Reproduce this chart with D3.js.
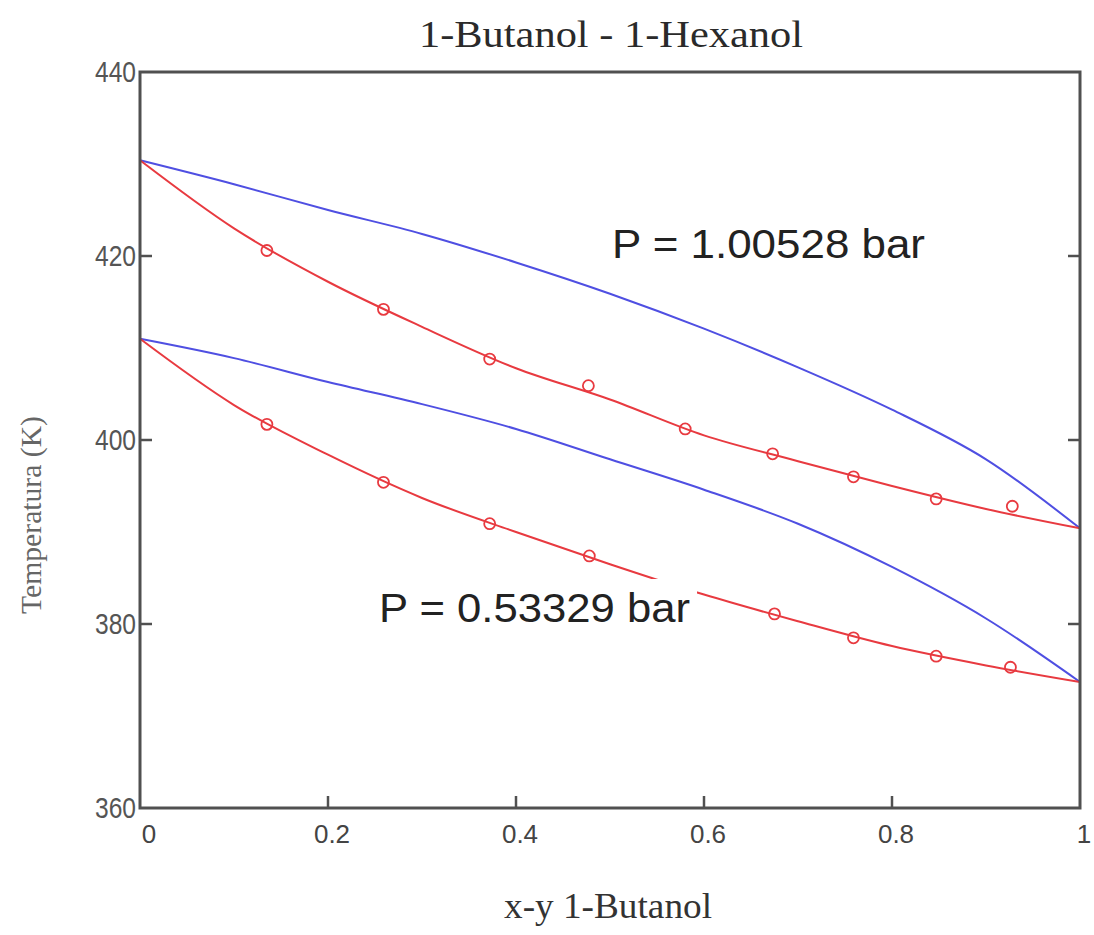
<!DOCTYPE html>
<html>
<head>
<meta charset="utf-8">
<script src="https://cdn.jsdelivr.net/npm/d3@7"></script>
<style>
  html, body { margin: 0; padding: 0; background: #fff; }
  svg { display: block; }
</style>
</head>
<body>
<svg id="chart" width="1094" height="935"></svg>
<script>
// T-x-y diagram for 1-Butanol / 1-Hexanol at two pressures

// Mole-fraction grid on which the model curves are tabulated
const gridX = [0, 0.1, 0.2, 0.3, 0.4, 0.5, 0.6, 0.7, 0.8, 0.9, 1];

// Model temperatures (K) on gridX
const bubbleHighT = [430.4, 423.0, 417.2, 412.3, 407.8, 404.4, 400.5, 397.7, 395.0, 392.5, 390.4]; // liquid, P = 1.00528 bar
const dewHighT    = [430.4, 427.8, 425.0, 422.4, 419.3, 415.9, 412.1, 407.9, 403.3, 397.9, 390.4]; // vapour, P = 1.00528 bar
const bubbleLowT  = [411.0, 403.8, 398.4, 393.7, 390.0, 386.5, 383.2, 380.3, 377.6, 375.5, 373.7]; // liquid, P = 0.53329 bar
const dewLowT     = [411.0, 408.9, 406.3, 403.9, 401.2, 397.9, 394.6, 390.9, 386.2, 380.6, 373.7]; // vapour, P = 0.53329 bar

// Experimental points
const expHighX = [0.135, 0.259, 0.372, 0.477, 0.58, 0.673, 0.759, 0.847, 0.928];
const expHighT = [420.6, 414.2, 408.8, 405.9, 401.2, 398.5, 396.0, 393.6, 392.8];
const expLowX  = [0.135, 0.259, 0.372, 0.478, 0.675, 0.759, 0.847, 0.926];
const expLowT  = [401.7, 395.4, 390.9, 387.4, 381.1, 378.5, 376.5, 375.3];

// Axis ticks and texts
const xTicks = [0, 0.2, 0.4, 0.6, 0.8, 1];
const xTickLabels = ["0", "0.2", "0.4", "0.6", "0.8", "1"];
const yTicks = [360, 380, 400, 420, 440];
const yTickLabels = ["360", "380", "400", "420", "440"];
const titleText = "1-Butanol - 1-Hexanol";
const xLabelText = "x-y 1-Butanol";
const yLabelText = "Temperatura (K)";
const pressureLabels = ["P = 1.00528 bar", "P = 0.53329 bar"];

const svg = d3.select("#chart");
const plotLeft = 140, plotRight = 1080, plotTop = 72, plotBottom = 808;

const x = d3.scaleLinear().domain([0, 1]).range([plotLeft, plotRight]);
const y = d3.scaleLinear().domain([360, 440]).range([plotBottom, plotTop]);

const blue = "#4f4fe2";
const red = "#e83a40";
const axisColor = "#505050";

const zip = (xs, ts) => xs.map((v, i) => [v, ts[i]]);
const line = d3.line().x(d => x(d[0])).y(d => y(d[1])).curve(d3.curveMonotoneX);

const plot = svg.append("g");

// curves
[[dewHighT, blue], [bubbleHighT, red], [dewLowT, blue], [bubbleLowT, red]].forEach(([ts, c]) => {
  plot.append("path")
    .attr("d", line(zip(gridX, ts)))
    .attr("fill", "none")
    .attr("stroke", c)
    .attr("stroke-width", 2)
    .attr("stroke-linejoin", "round");
});

// experimental circles
[[expHighX, expHighT], [expLowX, expLowT]].forEach(([xs, ts]) => {
  plot.selectAll(null)
    .data(zip(xs, ts))
    .enter().append("circle")
    .attr("cx", d => x(d[0]))
    .attr("cy", d => y(d[1]))
    .attr("r", 5.5)
    .attr("fill", "none")
    .attr("stroke", red)
    .attr("stroke-width", 1.8);
});

// pressure annotations (the lower one sits on an opaque box)
svg.append("rect")
  .attr("x", 372).attr("y", 579).attr("width", 325).attr("height", 52)
  .attr("fill", "#fff");

svg.append("text")
  .attr("x", 612).attr("y", 258)
  .attr("font-family", "Liberation Sans, Arial, sans-serif")
  .attr("font-size", 41)
  .attr("fill", "#222")
  .attr("textLength", 313).attr("lengthAdjust", "spacingAndGlyphs")
  .text(pressureLabels[0]);

svg.append("text")
  .attr("x", 379).attr("y", 622)
  .attr("font-family", "Liberation Sans, Arial, sans-serif")
  .attr("font-size", 41)
  .attr("fill", "#222")
  .attr("textLength", 311).attr("lengthAdjust", "spacingAndGlyphs")
  .text(pressureLabels[1]);

// frame
svg.append("rect")
  .attr("x", plotLeft).attr("y", plotTop)
  .attr("width", plotRight - plotLeft).attr("height", plotBottom - plotTop)
  .attr("fill", "none")
  .attr("stroke", axisColor)
  .attr("stroke-width", 3);

// inward ticks: bottom, left and right
const tickLen = 12;
const innerX = xTicks.filter(v => v > 0 && v < 1);
const innerY = yTicks.filter(v => v > 360 && v < 440);
const ticks = svg.append("g").attr("stroke", axisColor).attr("stroke-width", 2.5);
innerX.forEach(v => {
  ticks.append("line").attr("x1", x(v)).attr("x2", x(v)).attr("y1", plotBottom).attr("y2", plotBottom - tickLen);
});
innerY.forEach(v => {
  ticks.append("line").attr("x1", plotLeft).attr("x2", plotLeft + tickLen).attr("y1", y(v)).attr("y2", y(v));
  ticks.append("line").attr("x1", plotRight).attr("x2", plotRight - tickLen).attr("y1", y(v)).attr("y2", y(v));
});

// tick labels
svg.append("g").selectAll("text")
  .data(xTicks)
  .enter().append("text")
  .attr("x", (d, i) => x(d) + (i === 0 ? 9 : 4))
  .attr("y", 843)
  .attr("text-anchor", "middle")
  .attr("font-family", "Liberation Sans, Arial, sans-serif")
  .attr("font-size", 26)
  .attr("fill", "#444")
  .text((d, i) => xTickLabels[i]);

svg.append("g").selectAll("text")
  .data(yTicks)
  .enter().append("text")
  .attr("x", 136)
  .attr("y", d => y(d) + 10)
  .attr("text-anchor", "end")
  .attr("font-family", "Liberation Sans, Arial, sans-serif")
  .attr("font-size", 30)
  .attr("fill", "#555")
  .attr("textLength", 41).attr("lengthAdjust", "spacingAndGlyphs")
  .text((d, i) => yTickLabels[i]);

// title and axis titles
svg.append("text")
  .attr("x", 611).attr("y", 47)
  .attr("text-anchor", "middle")
  .attr("font-family", "Liberation Serif, Times New Roman, serif")
  .attr("font-size", 38)
  .attr("fill", "#2a2a2a")
  .attr("textLength", 384).attr("lengthAdjust", "spacingAndGlyphs")
  .text(titleText);

svg.append("text")
  .attr("x", 608).attr("y", 918)
  .attr("text-anchor", "middle")
  .attr("font-family", "Liberation Serif, Times New Roman, serif")
  .attr("font-size", 35)
  .attr("fill", "#333")
  .attr("textLength", 208).attr("lengthAdjust", "spacingAndGlyphs")
  .text(xLabelText);

svg.append("text")
  .attr("transform", "translate(41,515) rotate(-90)")
  .attr("text-anchor", "middle")
  .attr("font-family", "Liberation Serif, Times New Roman, serif")
  .attr("font-size", 30)
  .attr("fill", "#666")
  .attr("textLength", 198).attr("lengthAdjust", "spacingAndGlyphs")
  .text(yLabelText);
</script>
</body>
</html>
